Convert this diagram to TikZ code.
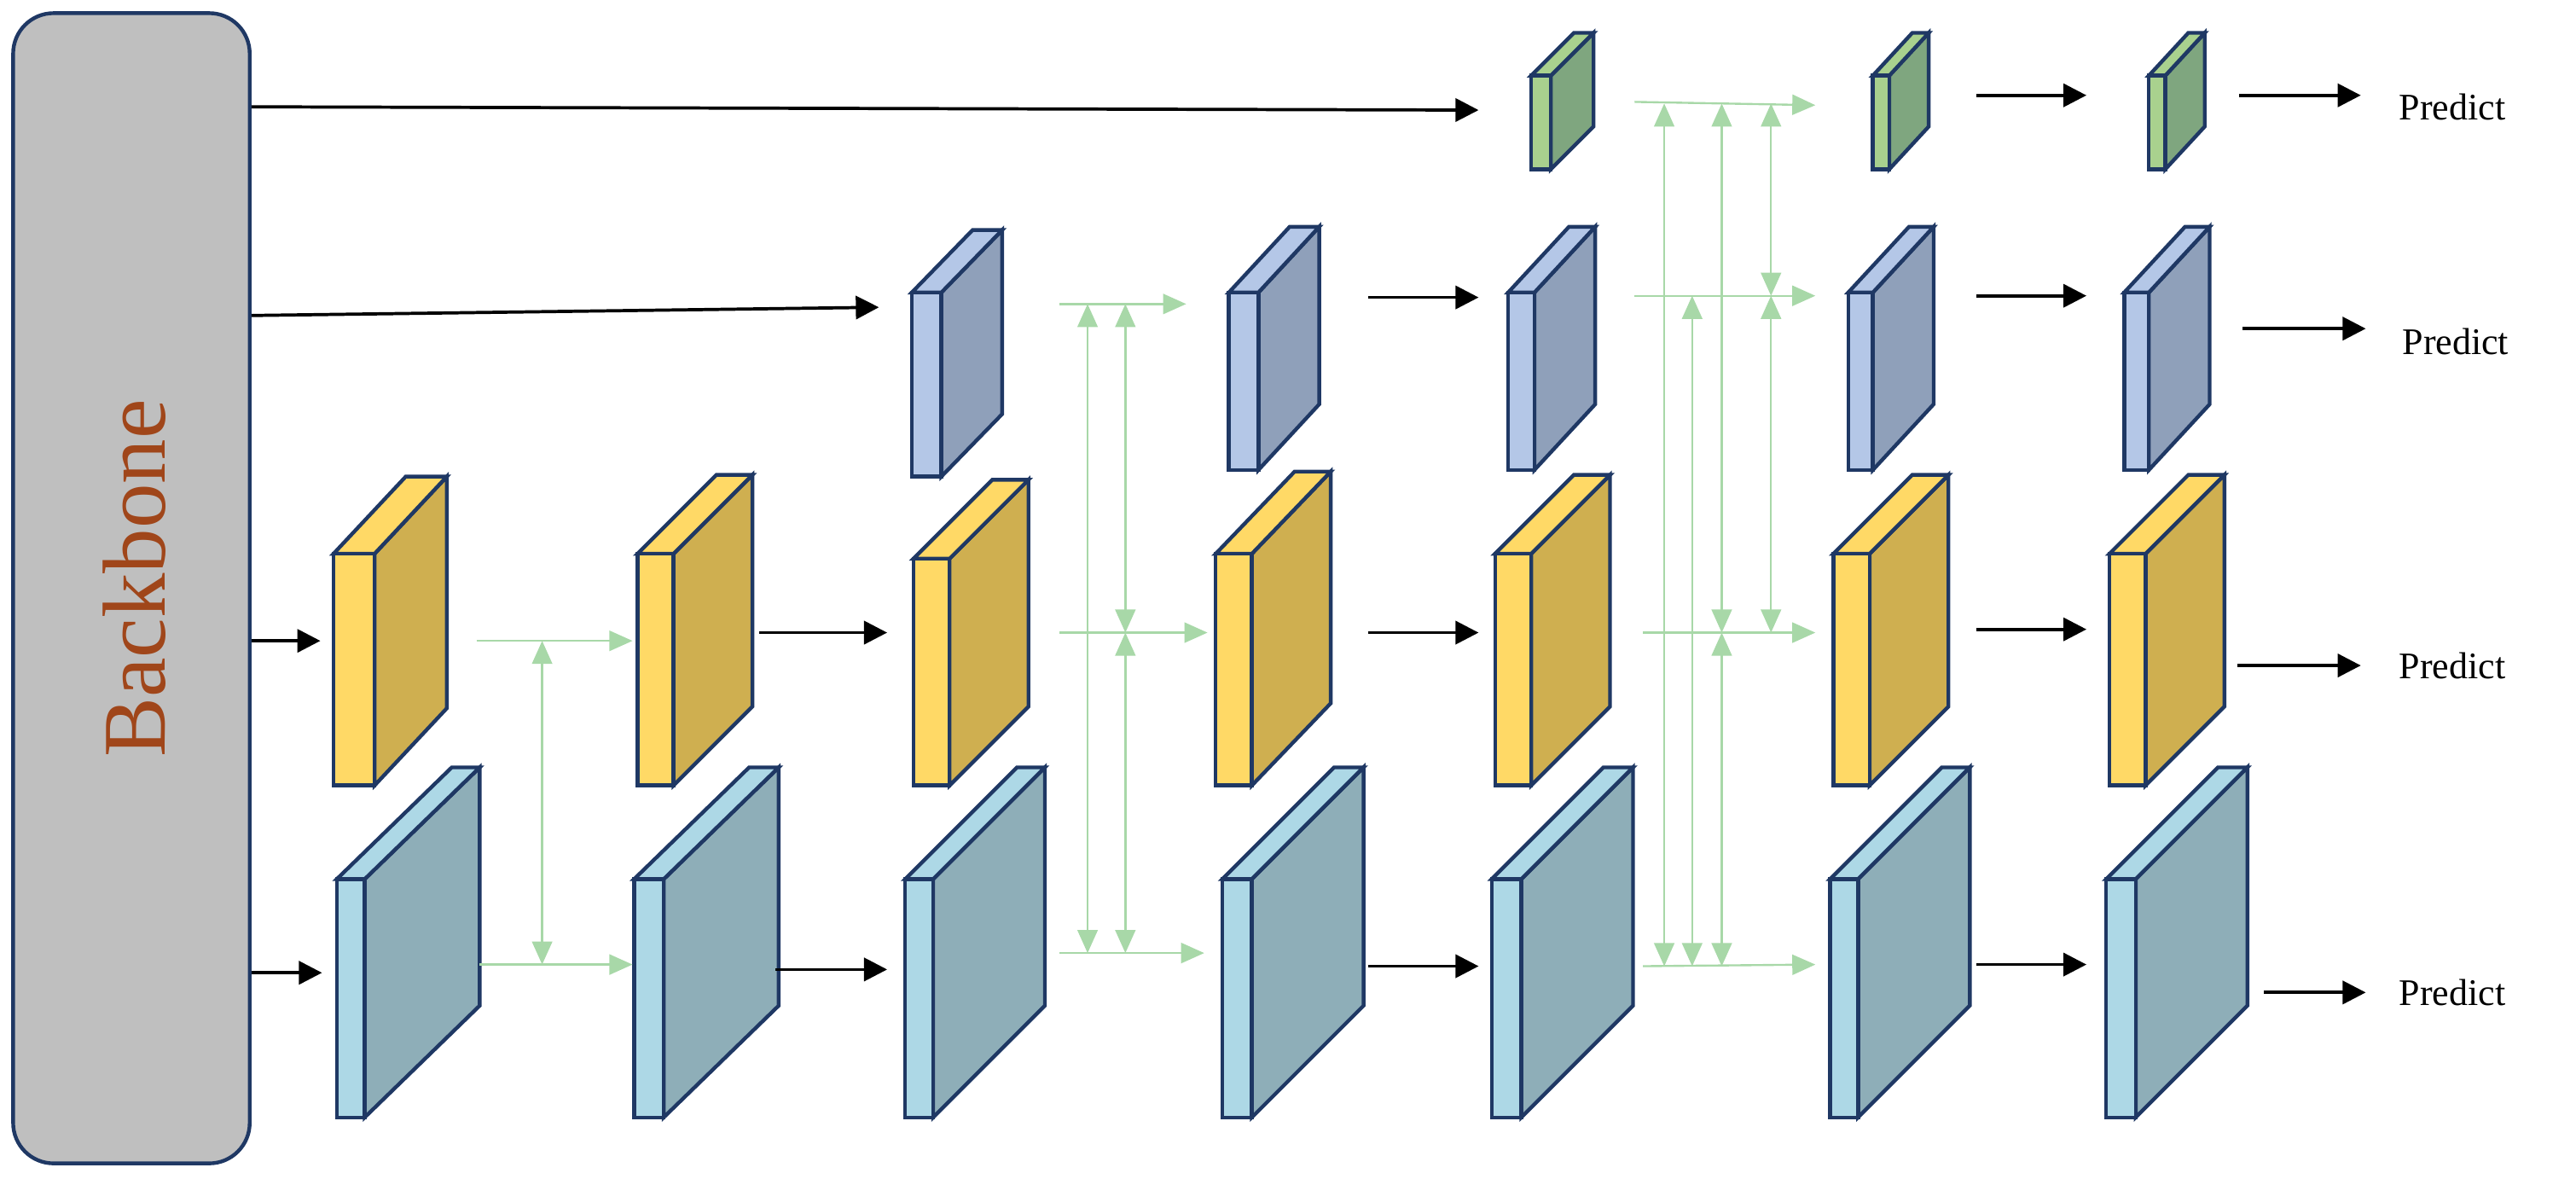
\documentclass[tikz,border=0pt]{standalone}
\usepackage{fontspec}
\setmainfont{Liberation Serif}
\usetikzlibrary{arrows.meta}
\definecolor{navy}{HTML}{1F3864}
\definecolor{yF}{HTML}{FFD966}\definecolor{yS}{HTML}{CFAF50}
\definecolor{sF}{HTML}{ADD8E6}\definecolor{sS}{HTML}{8EAEB8}
\definecolor{bF}{HTML}{B4C7E7}\definecolor{bS}{HTML}{8FA0BA}
\definecolor{gF}{HTML}{A9D18E}\definecolor{gS}{HTML}{7FA67F}
\definecolor{lg}{HTML}{A8D8A8}
\definecolor{brn}{HTML}{A0461A}
\newcommand{\cube}[9]{% name x ytop w h dx dy front side
  \filldraw[blockline,fill=#9] (#2+#4,#3)--(#2+#4+#6,#3-#7)--(#2+#4+#6,#3+#5-#7)--(#2+#4,#3+#5)--cycle;
  \filldraw[blockline,fill=#8] (#2,#3)--(#2+#6,#3-#7)--(#2+#4+#6,#3-#7)--(#2+#4,#3)--cycle;
  \filldraw[blockline,fill=#8] (#2,#3) rectangle (#2+#4,#3+#5);
  \coordinate (#1) at (#2+#4/2,#3+#5/2);
}
\tikzset{
  blockline/.style={draw=navy,line width=1.3pt,line join=miter},
  blk/.style={-{Triangle[length=8pt,width=8pt]},line width=1.1pt,black},
  ga/.style={-{Triangle[length=8pt,width=7pt]},line width=0.7pt,lg},
  gd/.style={{Triangle[length=8pt,width=7pt]}-{Triangle[length=8pt,width=7pt]},line width=0.7pt,lg},
  pred/.style={font=\fontsize{13}{15}\selectfont,anchor=west,inner sep=0pt}
}
\begin{document}
\begin{tikzpicture}[x=0.02cm,y=-0.02cm]
\useasboundingbox (0,0) rectangle (1568,721);
% backbone
\node[draw=navy,line width=1.3pt,fill=black!25,rounded corners=14pt,minimum width=144*0.02cm,minimum height=700*0.02cm,inner sep=0pt] (bb) at (80,358) {};
\node[rotate=90,text=brn,font=\fontsize{31}{33}\selectfont] (bbt) at (82,352) {Backbone};
% green row
\cube{g5}{932}{46}{12}{57}{26}{26}{gF}{gS}
\cube{g6}{1140}{46}{10}{57}{24}{26}{gF}{gS}
\cube{g7}{1308}{46}{10}{57}{24}{26}{gF}{gS}
% blue row
\cube{b3}{555}{178}{18}{112}{37}{38}{bF}{bS}
\cube{b4}{748}{178}{18}{108}{37}{40}{bF}{bS}
\cube{b5}{918}{178}{16}{108}{37}{40}{bF}{bS}
\cube{b6}{1125}{178}{15}{108}{37}{40}{bF}{bS}
\cube{b7}{1293}{178}{15}{108}{37}{40}{bF}{bS}
% yellow row
\cube{y1}{203}{337}{25}{141}{44}{47}{yF}{yS}
\cube{y2}{388}{337}{22}{141}{48}{48}{yF}{yS}
\cube{y3}{556}{340}{22}{138}{48}{48}{yF}{yS}
\cube{y4}{740}{337}{22}{141}{48}{50}{yF}{yS}
\cube{y5}{910}{337}{22}{141}{48}{48}{yF}{yS}
\cube{y6}{1116}{337}{22}{141}{48}{48}{yF}{yS}
\cube{y7}{1284}{337}{22}{141}{48}{48}{yF}{yS}
% sky row
\cube{s1}{205}{535}{17}{145}{70}{68}{sF}{sS}
\cube{s2}{386}{535}{18}{145}{70}{68}{sF}{sS}
\cube{s3}{551}{535}{17}{145}{68}{68}{sF}{sS}
\cube{s4}{744}{535}{18}{145}{68}{68}{sF}{sS}
\cube{s5}{908}{535}{18}{145}{68}{68}{sF}{sS}
\cube{s6}{1114}{535}{17}{145}{68}{68}{sF}{sS}
\cube{s7}{1282}{535}{18}{145}{68}{68}{sF}{sS}
% black arrows from backbone
\draw[blk] (bb.east|-0,65) -- (900,67);
\draw[blk] (bb.east|-0,192) -- (535,187);
\draw[blk] (bb.east|-0,390) -- (195,390);
\draw[blk] (bb.east|-0,592) -- (196,592);
% between blocks
\draw[blk] (462,385)--(540,385);
\draw[blk] (472,590)--(540,590);
\draw[blk] (833,181)--(900,181);
\draw[blk] (833,385)--(900,385);
\draw[blk] (833,588)--(900,588);
\draw[blk] (1203,58)--(1270,58);
\draw[blk] (1203,180)--(1270,180);
\draw[blk] (1203,383)--(1270,383);
\draw[blk] (1203,587)--(1270,587);
% outputs
\draw[blk] (1363,58)--(1437,58); \node[pred] (p1) at (1460,65) {Predict};
\draw[blk] (1365,200)--(1440,200); \node[pred] (p2) at (1462,208) {Predict};
\draw[blk] (1362,405)--(1437,405); \node[pred] (p3) at (1460,405) {Predict};
\draw[blk] (1378,604)--(1440,604); \node[pred] (p4) at (1460,604) {Predict};
% stage 1 green
\draw[ga] (290,390)--(385,390);
\draw[ga] (292,587)--(385,587);
\draw[gd] (330,390)--(330,587);
% stage 2
\draw[ga] (645,185)--(722,185);
\draw[ga] (645,385)--(735,385);
\draw[ga] (645,580)--(733,580);
\draw[gd] (662,185)--(662,580);
\draw[gd] (685,185)--(685,385);
\draw[gd] (685,385)--(685,580);
% stage 3
\draw[ga] (995,62)--(1105,64);
\draw[ga] (995,180)--(1105,180);
\draw[ga] (1000,385)--(1105,385);
\draw[ga] (1000,588)--(1105,587);
\draw[gd] (1013,63)--(1013,588);
\draw[gd] (1030,180)--(1030,588);
\draw[gd] (1048,63)--(1048,385);
\draw[gd] (1048,385)--(1048,588);
\draw[gd] (1078,63)--(1078,180);
\draw[gd] (1078,180)--(1078,385);
\end{tikzpicture}
\end{document}
